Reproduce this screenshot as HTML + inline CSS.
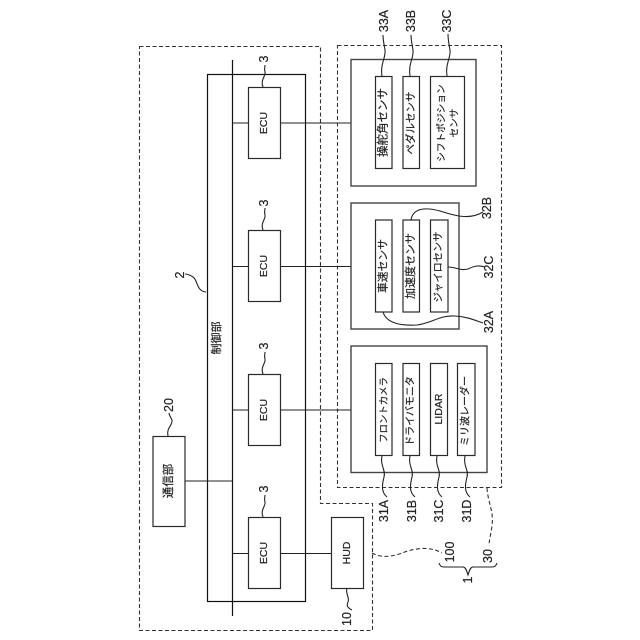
<!DOCTYPE html>
<html>
<head>
<meta charset="utf-8">
<style>
html,body{margin:0;padding:0;background:#fff;}
svg{display:block;}
text{font-family:"Liberation Sans","Noto Sans CJK JP",sans-serif;fill:#222;stroke:#222;stroke-width:.2;text-anchor:middle;dominant-baseline:central;}
.n{font-size:12.5px;}
.b{fill:#fff;stroke:#2a2a2a;stroke-width:1.2;}
.g{fill:none;stroke:#444;stroke-width:1.4;}
.l{fill:none;stroke:#222;stroke-width:1.1;}
.k{fill:none;stroke:#111;stroke-width:1.2;}
.d{fill:none;stroke:#333;stroke-width:1.1;stroke-dasharray:4 2.5;}
</style>
</head>
<body>
<svg width="640" height="640" viewBox="0 0 640 640" xmlns="http://www.w3.org/2000/svg">
<!-- dashed outlines -->
<path class="d" d="M139.500 46.500H320.500V503.500H372.500V630.500H139.500Z"/>
<rect class="d" x="337.500" y="45.500" width="164" height="442"/>
<!-- control -->
<rect class="k" x="207.500" y="74.500" width="98" height="527"/>
<path class="k" d="M232.500 60V616"/>
<!-- connections -->
<path class="l" d="M232 123H351M232 266.500H351M232 410H351M232 553.500H331M185 481H232"/>
<!-- ECU -->
<rect class="b" x="248.500" y="87.500" width="32" height="71"/>
<rect class="b" x="248.500" y="230.500" width="32" height="71"/>
<rect class="b" x="248.500" y="374.500" width="32" height="71"/>
<rect class="b" x="248.500" y="517.500" width="32" height="71"/>
<rect class="b" x="153" y="436.500" width="32" height="90"/>
<rect class="b" x="331.500" y="517.500" width="32" height="71"/>
<!-- groups -->
<rect class="g" x="351" y="59.500" width="125" height="126.500"/>
<rect class="g" x="351" y="203" width="108" height="126"/>
<rect class="g" x="351" y="346" width="136" height="126.500"/>
<!-- sensor boxes -->
<rect class="b" x="375.500" y="76.500" width="16.500" height="92"/>
<rect class="b" x="403" y="76.500" width="16.500" height="92"/>
<rect class="b" x="430.500" y="76.500" width="34" height="92"/>
<rect class="b" x="375.500" y="220" width="16.500" height="92"/>
<rect class="b" x="403" y="220" width="16.500" height="92"/>
<rect class="b" x="430.500" y="220" width="17.500" height="92"/>
<rect class="b" x="375.500" y="363.500" width="16.500" height="92"/>
<rect class="b" x="403" y="363.500" width="16.500" height="92"/>
<rect class="b" x="430.500" y="363.500" width="17" height="92"/>
<rect class="b" x="457.500" y="363.500" width="17.500" height="92"/>
<!-- leaders -->
<path class="l" d="M382 76C380 64 386 58 385 50C384 44 383 40 383 35"/>
<path class="l" d="M410 76C408 64 414 58 413 50C412 44 411 40 411 35"/>
<path class="l" d="M447 76C445 64 451 58 450 50C449 44 448 40 448 34"/>
<path class="l" d="M411 220C413 208 425 207 440 211C455 216 470 220 483 212"/>
<path class="l" d="M448 267C456 267 460 271 468 269C474 266 478 265 485 267"/>
<path class="l" d="M383 312C386 322 398 326 417 325C432 323 440 315 455 316C468 317 474 320 483 323"/>
<path class="l" d="M382 456C380 466 386 470 384 477C382 485 381 492 387 497"/>
<path class="l" d="M410 456C408 466 414 470 412 477C410 485 409 492 415 497"/>
<path class="l" d="M437 456C435 466 441 470 439 477C437 485 436 492 442 497"/>
<path class="l" d="M465 456C463 466 469 470 467 477C465 485 464 492 470 497"/>
<path class="l" d="M206 292C196 291 198 280 193 277C190 275 188 274 185 274"/>
<path class="l" d="M263 87C260 80 266 76 265 72C264 69 265 67 265 65"/>
<path class="l" d="M263 230C260 223 266 219 265 215C264 212 265 210 265 208"/>
<path class="l" d="M263 374C260 367 266 363 265 359C264 356 265 354 265 352"/>
<path class="l" d="M263 517C260 510 266 506 265 502C264 499 265 497 265 495"/>
<path class="l" d="M168 436C166 428 173 425 172 420C171 417 169 416 169 413"/>
<path class="l" d="M347 588C345 594 350 597 348 602C346 606 348 608 352 610"/>
<path class="d" d="M487 488C488 503 494 512 492 525C491 535 489 540 489 546"/>
<path class="d" d="M372 553C380 558 392 557 402 553C415 548 430 546 442 553"/>
<path class="l" d="M439 563C440 566 441 567 444 567H463C466 567 467 572 468 575C469 572 470 567 473 567H492C495 567 496 566 497 563"/>
<!-- labels: numbers -->
<text class="n" transform="translate(384 21) rotate(-90)">33A</text>
<text class="n" transform="translate(411 21) rotate(-90)">33B</text>
<text class="n" transform="translate(447 21) rotate(-90)">33C</text>
<text class="n" transform="translate(487 208) rotate(-90)">32B</text>
<text class="n" transform="translate(489 267) rotate(-90)">32C</text>
<text class="n" transform="translate(489 322) rotate(-90)">32A</text>
<text class="n" transform="translate(384 511) rotate(-90)">31A</text>
<text class="n" transform="translate(412 511) rotate(-90)">31B</text>
<text class="n" transform="translate(439 511) rotate(-90)">31C</text>
<text class="n" transform="translate(467 511) rotate(-90)">31D</text>
<text class="n" transform="translate(450 552) rotate(-90)">100</text>
<text class="n" transform="translate(488 556) rotate(-90)">30</text>
<text class="n" transform="translate(468 580) rotate(-90)">1</text>
<text class="n" transform="translate(347 619) rotate(-90)">10</text>
<text class="n" transform="translate(169 405) rotate(-90)">20</text>
<text class="n" transform="translate(264 59) rotate(-90)">3</text>
<text class="n" transform="translate(264 203) rotate(-90)">3</text>
<text class="n" transform="translate(264 346) rotate(-90)">3</text>
<text class="n" transform="translate(264 489) rotate(-90)">3</text>
<text class="n" transform="translate(180 275) rotate(-90)">2</text>
<!-- labels: blocks -->
<text font-size="11" transform="translate(217 338) rotate(-90)">制御部</text>
<text font-size="10.500" transform="translate(264 123) rotate(-90)">ECU</text>
<text font-size="10.500" transform="translate(264 266) rotate(-90)">ECU</text>
<text font-size="10.500" transform="translate(264 410) rotate(-90)">ECU</text>
<text font-size="10.500" transform="translate(264 553) rotate(-90)">ECU</text>
<text font-size="11.500" transform="translate(169 481) rotate(-90)">通信部</text>
<text font-size="10.500" transform="translate(347 553) rotate(-90)">HUD</text>
<text font-size="11.500" transform="translate(383.500 122.500) rotate(-90)">操舵角センサ</text>
<text font-size="10.500" transform="translate(411 123) rotate(-90)">ペダルセンサ</text>
<text font-size="9.700" transform="translate(442 123) rotate(-90)">シフトポジション</text>
<text font-size="9.700" transform="translate(455 123) rotate(-90)">センサ</text>
<text font-size="10.800" transform="translate(383.500 266) rotate(-90)">車速センサ</text>
<text font-size="11" transform="translate(411 266) rotate(-90)">加速度センサ</text>
<text font-size="10.200" transform="translate(439 267) rotate(-90)">ジャイロセンサ</text>
<text font-size="9.400" transform="translate(383.500 410) rotate(-90)">フロントカメラ</text>
<text font-size="10" transform="translate(411 411) rotate(-90)">ドライバモニタ</text>
<text font-size="10.500" transform="translate(439 409) rotate(-90)">LIDAR</text>
<text font-size="10" transform="translate(466 411) rotate(-90)">ミリ波レーダー</text>
</svg>
</body>
</html>
